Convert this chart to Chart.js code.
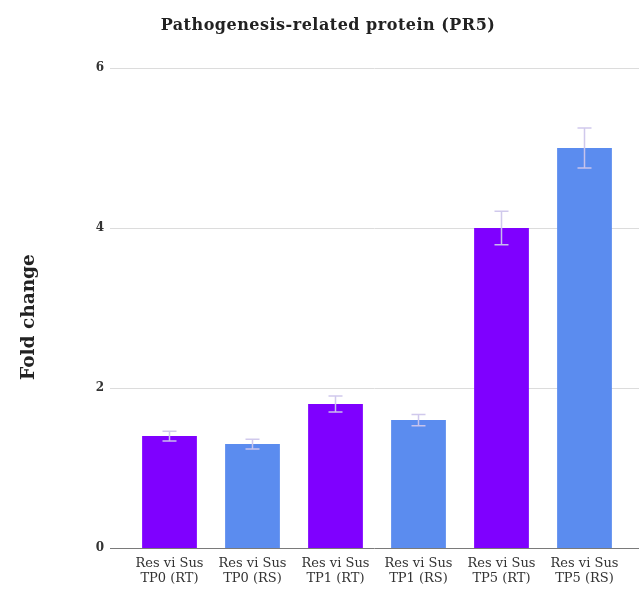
<!DOCTYPE html>
<html>
<head>
<meta charset="utf-8">
<script src="https://cdn.jsdelivr.net/npm/chart.js@4/dist/chart.umd.min.js"></script>
<style>
  html, body { margin: 0; padding: 0; background: #ffffff; }
  #wrap { width: 639px; height: 599px; }
</style>
</head>
<body>
<div id="wrap"><canvas id="c" width="639" height="599"></canvas></div>
<script>
const categories = [
  ["Res vi Sus", "TP0 (RT)"],
  ["Res vi Sus", "TP0 (RS)"],
  ["Res vi Sus", "TP1 (RT)"],
  ["Res vi Sus", "TP1 (RS)"],
  ["Res vi Sus", "TP5 (RT)"],
  ["Res vi Sus", "TP5 (RS)"]
];
const foldChange = [1.4, 1.3, 1.8, 1.6, 4.0, 5.0];
const errors = [0.06, 0.06, 0.1, 0.07, 0.21, 0.25];
const barColors = ["#7f00ff", "#5b8cef", "#7f00ff", "#5b8cef", "#7f00ff", "#5b8cef"];
const yTicks = [0, 2, 4, 6];
const titleText = "Pathogenesis-related protein (PR5)";
const yTitle = "Fold change";

const gridPlugin = {
  id: "gridPlugin",
  beforeDatasetsDraw(chart) {
    const ctx = chart.ctx;
    const y = chart.scales.y;
    const area = chart.chartArea;
    ctx.save();
    yTicks.forEach(v => {
      const py = Math.round(y.getPixelForValue(v)) + 0.5;
      ctx.beginPath();
      ctx.strokeStyle = v === 0 ? "#7a7a7a" : "#dcdcdc";
      ctx.lineWidth = 1;
      ctx.moveTo(area.left - 18, py);
      ctx.lineTo(chart.width, py);
      ctx.stroke();
    });
    ctx.restore();
  }
};

const errorPlugin = {
  id: "errorPlugin",
  afterDatasetsDraw(chart) {
    const ctx = chart.ctx;
    const y = chart.scales.y;
    const meta = chart.getDatasetMeta(0);
    ctx.save();
    ctx.lineWidth = 1.5;
    meta.data.forEach((bar, i) => {
      const v = foldChange[i], e = errors[i];
      const top = y.getPixelForValue(v + e);
      const bot = y.getPixelForValue(v - e);
      const x = bar.x;
      const capW = 7;
      ctx.strokeStyle = "rgba(205,198,235,0.95)";
      ctx.beginPath();
      ctx.moveTo(x, top); ctx.lineTo(x, bot);
      ctx.moveTo(x - capW, top); ctx.lineTo(x + capW, top);
      ctx.moveTo(x - capW, bot); ctx.lineTo(x + capW, bot);
      ctx.stroke();
    });
    ctx.restore();
  }
};

const titlesPlugin = {
  id: "titlesPlugin",
  afterDraw(chart) {
    const ctx = chart.ctx;
    const area = chart.chartArea;
    ctx.save();
    ctx.fillStyle = "#222222";
    ctx.textAlign = "center";
    ctx.textBaseline = "middle";
    ctx.font = "bold 16px 'DejaVu Serif', serif";
    try { ctx.letterSpacing = "0.5px"; } catch (e) {}
    ctx.fillText(titleText, 328, 26);
    try { ctx.letterSpacing = "0px"; } catch (e) {}
    ctx.translate(29, (area.top + area.bottom) / 2 + 9);
    ctx.rotate(-Math.PI / 2);
    ctx.font = "bold 18.5px 'DejaVu Serif', serif";
    ctx.fillText(yTitle, 0, 0);
    ctx.restore();
  }
};

new Chart(document.getElementById("c"), {
  type: "bar",
  data: {
    labels: categories,
    datasets: [{
      data: foldChange,
      backgroundColor: barColors,
      borderWidth: 0,
      barPercentage: 0.66,
      categoryPercentage: 1.0
    }]
  },
  options: {
    responsive: false,
    animation: false,
    devicePixelRatio: 1,
    layout: { padding: { left: 0, right: 13, top: 68, bottom: 5 } },
    plugins: {
      legend: { display: false },
      tooltip: { enabled: false },
      title: { display: false }
    },
    scales: {
      x: {
        grid: { display: false, drawTicks: false },
        border: { display: false },
        ticks: {
          color: "#333333",
          font: { family: "'DejaVu Serif', serif", size: 13, lineHeight: 1.15 },
          padding: 8,
          maxRotation: 0,
          autoSkip: false
        }
      },
      y: {
        min: 0,
        max: 6,
        afterFit(scale) { scale.width = 128; },
        afterBuildTicks(scale) { scale.ticks = yTicks.map(v => ({ value: v })); },
        grid: { display: false, drawTicks: false },
        border: { display: false },
        ticks: {
          color: "#333333",
          font: { family: "'DejaVu Serif', serif", size: 12, weight: "bold" },
          padding: 24
        },
        title: { display: false }
      }
    }
  },
  plugins: [gridPlugin, errorPlugin, titlesPlugin]
});
</script>
</body>
</html>
